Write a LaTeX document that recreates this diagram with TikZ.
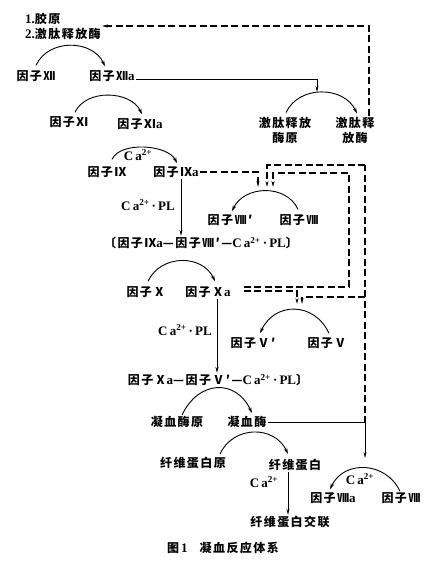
\documentclass[tikz,border=0pt]{standalone}
\usepackage{fontspec}
\setmainfont{Liberation Serif}
\newfontfamily\cjk{Noto Sans CJK SC}[LetterSpace=12]
\usetikzlibrary{arrows.meta}
\newcommand\lt[1]{{\rmfamily\bfseries\fontsize{13}{15}\selectfont #1}}
\newcommand\caa{\lt{C\,a\textsuperscript{2+}}}
\newcommand\capl{\lt{C\,a\textsuperscript{2+}\,·\,PL}}
\tikzset{
  lbl/.style={inner sep=1pt, font=\cjk\bfseries\fontsize{12}{15}\selectfont},
  bow/.style={line width=0.9pt, -{Stealth[length=6pt,width=3.5pt]}},
  lr/.style={bow, out=65, in=115},
  rl/.style={bow, out=115, in=65},
  sol/.style={line width=0.8pt, -{Stealth[length=6pt,width=3pt]}},
  dsh/.style={line width=1.1pt, dash pattern=on 7pt off 3.5pt, -{Stealth[length=6pt,width=3pt]}},
}
\begin{document}
\begin{tikzpicture}[x=1pt,y=-1pt]
\useasboundingbox (0,0) rectangle (440,579);
% labels
\node[lbl, align=left, anchor=west] (lab) at (24,26) {\lt{1.}胶原\\\lt{2.}激肽释放酶};
\node[lbl] (f12) at (36,76) {因子Ⅻ};
\node[lbl] (f12a) at (112,76) {因子Ⅻ\lt{a}};
\node[lbl] (f11) at (69,122) {因子Ⅺ};
\node[lbl] (f11a) at (140,124) {因子Ⅺ\lt{a}};
\node[lbl, align=center] (kzy) at (285,130) {激肽释放\\酶原};
\node[lbl, align=center] (kz) at (355,130) {激肽释\\放酶};
\node[lbl] (ca1) at (138,155) {\caa};
\node[lbl] (f9) at (107,172) {因子Ⅸ};
\node[lbl] (f9a) at (176,172) {因子Ⅸ\lt{a}};
\node[lbl] (pl1) at (148,205) {\capl};
\node[lbl] (f8p) at (230,220) {因子Ⅷ′};
\node[lbl] (f8) at (299,220) {因子Ⅷ};
\node[lbl] (cx1) at (201,243) {〔因子Ⅸ\lt{a}—因子Ⅷ′—\capl〕};
\node[lbl] (f10) at (146,292) {因子Ⅹ};
\node[lbl] (f10a) at (208,292) {因子Ⅹ\lt{a}};
\node[lbl] (pl2) at (185,330) {\capl};
\node[lbl] (f5p) at (253,343) {因子Ⅴ′};
\node[lbl] (f5) at (327,343) {因子Ⅴ};
\node[lbl] (cx2) at (218,380) {因子Ⅹ\lt{a}—因子Ⅴ′—\capl〕};
\node[lbl] (f2p) at (177,422) {凝血酶原};
\node[lbl] (f2) at (247,422) {凝血酶};
\node[lbl] (fgp) at (193,463) {纤维蛋白原};
\node[lbl] (fg) at (295,465) {纤维蛋白};
\node[lbl] (ca3) at (264,482) {\caa};
\node[lbl] (ca4) at (360,479) {\caa};
\node[lbl] (f13a) at (333,498) {因子Ⅷ\lt{a}};
\node[lbl] (f13) at (401,498) {因子Ⅷ};
\node[lbl] (xl) at (290,522) {纤维蛋白交联};
\node[lbl] (cap) at (223,548) {图\,\lt{1}\quad 凝血反应体系};
% coordinates for arrow tips / junctions
\coordinate (kpk) at (317,92);
\coordinate (p8a) at (258,187);
\coordinate (p8b) at (267,187);
\coordinate (p8c) at (273,187);
\coordinate (p5a) at (297,304);
\coordinate (p5b) at (302,304);
\coordinate (thj) at (365,423);
\coordinate (otop) at (365,165);
\coordinate (obr) at (365,297);
\coordinate (icr) at (349,173);
\coordinate (p13) at (365,458);
% arcs
\draw[lr, looseness=1.1] ([yshift=4pt]f12.north) to ([xshift=-7pt,yshift=3pt]f12a.north);
\draw[lr, looseness=1.0] ([xshift=6pt,yshift=3pt]f11.north) to ([xshift=2pt,yshift=3pt]f11a.north);
\draw[lr, looseness=1.1] ([xshift=1pt,yshift=3pt]kzy.north) to ([xshift=2pt,yshift=2pt]kz.north);
\draw[lr, looseness=0.8] ([xshift=5pt,yshift=6pt]f9.north) to ([xshift=1pt,yshift=2pt]f9a.north);
\draw[rl, looseness=1.1] ([xshift=-1pt,yshift=4pt]f8.north) to ([xshift=2pt,yshift=2pt]f8p.north);
\draw[lr, looseness=1.15] ([xshift=2pt,yshift=4pt]f10.north) to ([xshift=7pt,yshift=4pt]f10a.north);
\draw[rl, looseness=1.3] ([xshift=2pt,yshift=3pt]f5.north) to ([xshift=7pt,yshift=3pt]f5p.north);
\draw[lr, looseness=1.4] ([xshift=5pt,yshift=0pt]f2p.north) to ([xshift=5pt,yshift=2pt]f2.north);
\draw[lr, looseness=1.2] ([xshift=27pt,yshift=2pt]fgp.north) to ([xshift=-7pt,yshift=4pt]fg.north);
\draw[rl, looseness=1.2] ([xshift=-1pt,yshift=0pt]f13.north) to ([xshift=-3pt,yshift=2pt]f13a.north);
% solid connectors
\draw[sol] ([yshift=-3pt]f12a.east) -| (kpk);
\draw[sol] ([xshift=5pt]f9a.south) -- ([xshift=5pt]f9a.south |- cx1.north);
\draw[sol] ([xshift=9pt]f10a.south) -- ([xshift=9pt]f10a.south |- cx2.north);
\draw[sol] ([xshift=-7pt]fg.south) -- ([xshift=-7pt]fg.south |- xl.north);
\draw[sol] (f2.east) -| (p13);
% dashed connectors
\draw[dsh] ([xshift=14pt]kz.north) |- (lab.east);
\draw[dsh] (f9a.east) -| (p8a);
\draw[dsh,-] (thj) -- (otop);
\draw[dsh] (otop) -| (p8b);
\draw[dsh] ([xshift=12pt,yshift=5pt]f10a.east) -| (icr) -| (p8c);
\draw[dsh] ([xshift=12pt,yshift=1pt]f10a.east) -| (p5a);
\draw[dsh] (obr) -| (p5b);
\end{tikzpicture}
\end{document}
